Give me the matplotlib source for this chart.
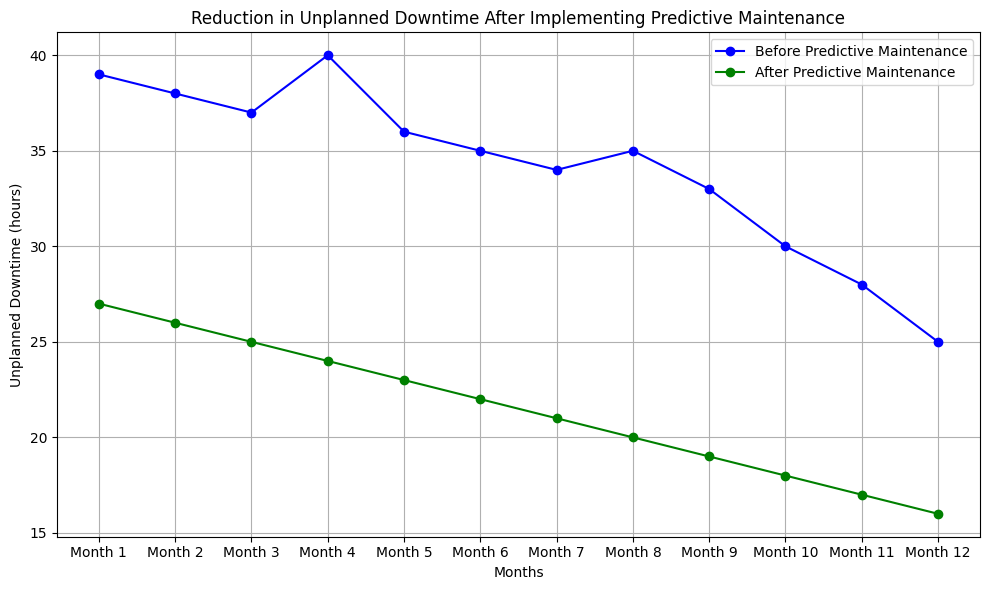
import matplotlib
matplotlib.use("Agg")
import matplotlib.pyplot as plt

# data
months = ["Month 1", "Month 2", "Month 3", "Month 4", "Month 5", "Month 6",
          "Month 7", "Month 8", "Month 9", "Month 10", "Month 11", "Month 12"]
before = [39, 38, 37, 40, 36, 35, 34, 35, 33, 30, 28, 25]
after = [27, 26, 25, 24, 23, 22, 21, 20, 19, 18, 17, 16]

fig, ax = plt.subplots(figsize=(10, 6), dpi=100)
ax.plot(months, before, marker="o", color="blue", label="Before Predictive Maintenance")
ax.plot(months, after, marker="o", color="green", label="After Predictive Maintenance")

ax.set_title("Reduction in Unplanned Downtime After Implementing Predictive Maintenance")
ax.set_xlabel("Months")
ax.set_ylabel("Unplanned Downtime (hours)")
ax.legend()
ax.grid(True)

plt.tight_layout()
plt.savefig("out.png", bbox_inches="tight")
